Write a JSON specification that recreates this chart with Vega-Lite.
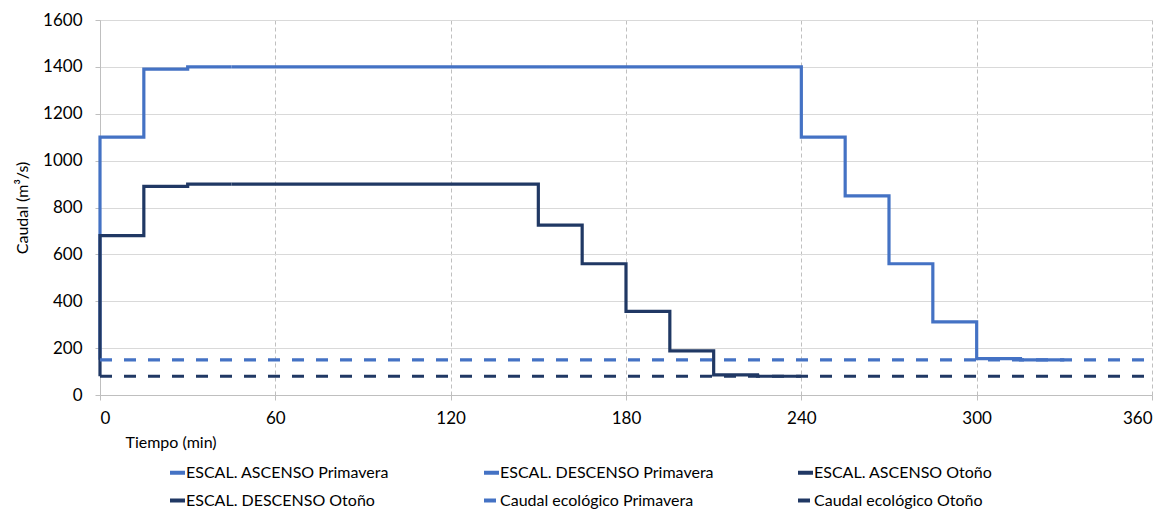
{
  "$schema": "https://vega.github.io/schema/vega-lite/v6.json",
  "width": 1052,
  "height": 375,
  "autosize": {"type": "none"},
  "padding": {"left": 100, "top": 20, "right": 17, "bottom": 116},
  "background": "white",
  "config": {
    "font": "Lato",
    "view": {"stroke": null}
  },
  "data": {
    "values": [
      {"serie": "ESCAL. ASCENSO Primavera", "i": 0, "t": 0, "q": 150},
      {"serie": "ESCAL. ASCENSO Primavera", "i": 1, "t": 0, "q": 1100},
      {"serie": "ESCAL. ASCENSO Primavera", "i": 2, "t": 15, "q": 1390},
      {"serie": "ESCAL. ASCENSO Primavera", "i": 3, "t": 30, "q": 1400},
      {"serie": "ESCAL. ASCENSO Primavera", "i": 4, "t": 45, "q": 1400},
      {"serie": "ESCAL. DESCENSO Primavera", "i": 0, "t": 45, "q": 1400},
      {"serie": "ESCAL. DESCENSO Primavera", "i": 1, "t": 240, "q": 1100},
      {"serie": "ESCAL. DESCENSO Primavera", "i": 2, "t": 255, "q": 850},
      {"serie": "ESCAL. DESCENSO Primavera", "i": 3, "t": 270, "q": 560},
      {"serie": "ESCAL. DESCENSO Primavera", "i": 4, "t": 285, "q": 312},
      {"serie": "ESCAL. DESCENSO Primavera", "i": 5, "t": 300, "q": 155},
      {"serie": "ESCAL. DESCENSO Primavera", "i": 6, "t": 315, "q": 150},
      {"serie": "ESCAL. DESCENSO Primavera", "i": 7, "t": 330, "q": 150},
      {"serie": "ESCAL. ASCENSO Otoño", "i": 0, "t": 0, "q": 80},
      {"serie": "ESCAL. ASCENSO Otoño", "i": 1, "t": 0, "q": 680},
      {"serie": "ESCAL. ASCENSO Otoño", "i": 2, "t": 15, "q": 890},
      {"serie": "ESCAL. ASCENSO Otoño", "i": 3, "t": 30, "q": 900},
      {"serie": "ESCAL. ASCENSO Otoño", "i": 4, "t": 45, "q": 900},
      {"serie": "ESCAL. DESCENSO Otoño", "i": 0, "t": 45, "q": 900},
      {"serie": "ESCAL. DESCENSO Otoño", "i": 1, "t": 150, "q": 725},
      {"serie": "ESCAL. DESCENSO Otoño", "i": 2, "t": 165, "q": 560},
      {"serie": "ESCAL. DESCENSO Otoño", "i": 3, "t": 180, "q": 357},
      {"serie": "ESCAL. DESCENSO Otoño", "i": 4, "t": 195, "q": 188},
      {"serie": "ESCAL. DESCENSO Otoño", "i": 5, "t": 210, "q": 86},
      {"serie": "ESCAL. DESCENSO Otoño", "i": 6, "t": 225, "q": 80},
      {"serie": "ESCAL. DESCENSO Otoño", "i": 7, "t": 240, "q": 80},
      {"serie": "Caudal ecológico Primavera", "i": 0, "t": 0, "q": 150},
      {"serie": "Caudal ecológico Primavera", "i": 1, "t": 360, "q": 150},
      {"serie": "Caudal ecológico Otoño", "i": 0, "t": 0, "q": 80},
      {"serie": "Caudal ecológico Otoño", "i": 1, "t": 360, "q": 80}
    ]
  },
  "mark": {"type": "line", "interpolate": "step-after", "strokeWidth": 3.2, "strokeCap": "butt", "strokeJoin": "miter"},
  "encoding": {
    "x": {
      "field": "t", "type": "quantitative",
      "scale": {"domain": [0, 360], "nice": false},
      "axis": {
        "values": [0, 60, 120, 180, 240, 300, 360],
        "format": "d",
        "title": "Tiempo (min)",
        "titleFont": "Lato", "titleFontSize": 16, "titleFontWeight": "normal", "titleColor": "#000000",
        "titleAnchor": "start", "titleAlign": "left", "titleX": 25, "titleY": 47, "titleBaseline": "middle",
        "labelFont": "Lato", "labelFontSize": 17, "labelColor": "#000000", "labelPadding": 10,
        "domainColor": "#bfbfbf", "tickColor": "#bfbfbf", "tickSize": 5,
        "gridColor": "#bfbfbf", "gridDash": [4, 3], "gridWidth": 1
      }
    },
    "y": {
      "field": "q", "type": "quantitative",
      "scale": {"domain": [0, 1600], "nice": false},
      "axis": {
        "values": [0, 200, 400, 600, 800, 1000, 1200, 1400, 1600],
        "format": "d",
        "title": "Caudal (m³/s)",
        "titleFont": "Lato", "titleFontSize": 16, "titleFontWeight": "normal", "titleColor": "#000000",
        "titlePadding": 12,
        "labelFont": "Lato", "labelFontSize": 17, "labelColor": "#000000", "labelPadding": 13,
        "domainColor": "#bfbfbf", "tickColor": "#bfbfbf", "tickSize": 5,
        "gridColor": "#d9d9d9", "gridWidth": 1
      }
    },
    "color": {
      "field": "serie", "type": "nominal",
      "scale": {
        "domain": ["ESCAL. ASCENSO Primavera", "ESCAL. DESCENSO Primavera", "ESCAL. ASCENSO Otoño", "ESCAL. DESCENSO Otoño", "Caudal ecológico Primavera", "Caudal ecológico Otoño"],
        "range": ["#4472c4", "#4472c4", "#203864", "#203864", "#4472c4", "#203864"]
      },
      "legend": {
        "orient": "none", "legendX": 68, "legendY": 443,
        "direction": "horizontal", "columns": 3, "gridAlign": "all",
        "title": null,
        "symbolType": "stroke", "symbolSize": 225, "symbolStrokeWidth": 4, "symbolOffset": 0,
        "labelFont": "Lato", "labelFontSize": 16, "labelColor": "#000000", "labelOffset": -1, "labelLimit": 400,
        "columnPadding": 76, "rowPadding": 10
      }
    },
    "strokeDash": {
      "field": "serie", "type": "nominal",
      "scale": {
        "domain": ["ESCAL. ASCENSO Primavera", "ESCAL. DESCENSO Primavera", "ESCAL. ASCENSO Otoño", "ESCAL. DESCENSO Otoño", "Caudal ecológico Primavera", "Caudal ecológico Otoño"],
        "range": [[1, 0], [1, 0], [1, 0], [1, 0], [12, 12], [12, 12]]
      },
      "legend": null
    },
    "order": {"field": "i", "type": "quantitative"}
  }
}
